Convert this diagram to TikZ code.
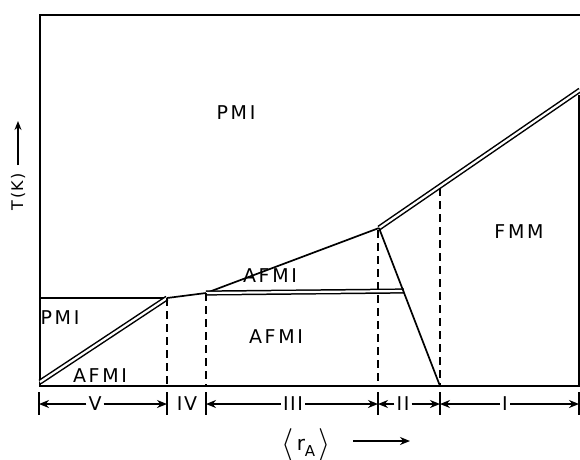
\documentclass[tikz,border=0pt]{standalone}
\usepackage{fontspec}
\setmainfont{DejaVu Sans}
\usetikzlibrary{arrows.meta}
\tikzset{
  ln/.style={line width=1.7pt},
  dbl/.style={double=white, line width=1.5pt, double distance=2.2pt},
  dsh/.style={line width=1.7pt, dash pattern=on 8pt off 5pt},
  region/.style={font=\fontsize{19}{19}\selectfont\addfontfeature{LetterSpace=14}, inner sep=0pt},
  num/.style={font=\fontsize{19}{19}\selectfont\addfontfeature{LetterSpace=8}, inner sep=2pt, fill=white},
  dimarr/.style={line width=1.6pt, -{Stealth[length=10pt,width=8pt]}},
  tick/.style={line width=1.6pt}
}
\begin{document}
\begin{tikzpicture}[x=1pt,y=-1pt]
\useasboundingbox (0,0) rectangle (580,459);
% frame
\coordinate (tl) at (40,15);
\coordinate (tr) at (580,15);
\coordinate (bl) at (40,386);
\coordinate (br) at (579,386);
\coordinate (rt) at (579,95);
\draw[ln] (tr) -- (tl) -- (bl) -- (br) -- (rt);
% phase boundaries
\coordinate (p0) at (40,382);
\coordinate (p1) at (167,298);
\coordinate (p2) at (206,293);
\coordinate (p3) at (379,228);
\coordinate (p4) at (580,90);
\coordinate (h0) at (40,298);
\coordinate (h1) at (404,291);
\coordinate (q) at (440,386);
\coordinate (m) at (440,188);
\draw[ln] (h0) -- (p1);
\draw[dbl] (p0) -- (p1);
\draw[ln] (p1) -- (p2) -- (p3);
\draw[dbl] (p3) -- (p4);
\draw[dbl] (p2) -- (h1);
\draw[ln] (p3) -- (q);
% dashed verticals
\coordinate (d1) at (167,386);
\coordinate (d2) at (206,386);
\coordinate (d3) at (378,386);
\draw[dsh] (p1) -- (d1);
\draw[dsh] (p2) -- (d2);
\draw[dsh] (378,230) -- (d3);
\draw[dsh] (m) -- (q);
% region labels
\node[region] (pmitop) at (236,113) {PMI};
\node[region] (fmm) at (519,232) {FMM};
\node[region] (afmi1) at (270,276) {AFMI};
\node[region] (afmi2) at (276,337) {AFMI};
\node[region] (pmileft) at (60,318) {PMI};
\node[region] (afmi3) at (100,376) {AFMI};
% bottom ticks
\foreach \n/\x in {a/39,b/167,c/206,d/378,e/440,f/579}{
  \coordinate (t\n) at (\x,404);
  \draw[tick] (\x,392) -- (\x,415);
}
% bottom labels
\node[num] (V) at (95,404) {V};
\node[num] (IV) at (187,404) {IV};
\node[num] (III) at (293,404) {III};
\node[num] (II) at (403,404) {II};
\node[num] (I) at (505,404) {I};
\draw[dimarr] (V.west) -- (ta);
\draw[dimarr] (V.east) -- (tb);
\draw[dimarr] (III.west) -- (tc);
\draw[dimarr] (III.east) -- (td);
\draw[dimarr] (II.west) -- (td);
\draw[dimarr] (II.east) -- (te);
\draw[dimarr] (I.west) -- (te);
\draw[dimarr] (I.east) -- (tf);
% axis labels
\node[rotate=90, font=\fontsize{16}{16}\selectfont\addfontfeature{LetterSpace=6}, inner sep=0pt] (tk) at (18,192) {T\,(K)};
\coordinate (tka) at (18,121);
\draw[line width=1.5pt, -{Stealth[length=9pt,width=7pt]}] (18,165) -- (tka);
\node[font=\fontsize{20}{20}\selectfont, inner sep=0pt] (ra) at (306,445) {\raisebox{-0.3ex}{\scalebox{1.5}[1.6]{$\langle$}}\,r\raisebox{-6pt}{\fontsize{15}{15}\selectfont A}\,\raisebox{-0.3ex}{\scalebox{1.5}[1.6]{$\rangle$}}};
\coordinate (raend) at (410,441);
\draw[line width=1.6pt, -{Stealth[length=10pt,width=8pt]}] (353,441) -- (raend);
\end{tikzpicture}
\end{document}
